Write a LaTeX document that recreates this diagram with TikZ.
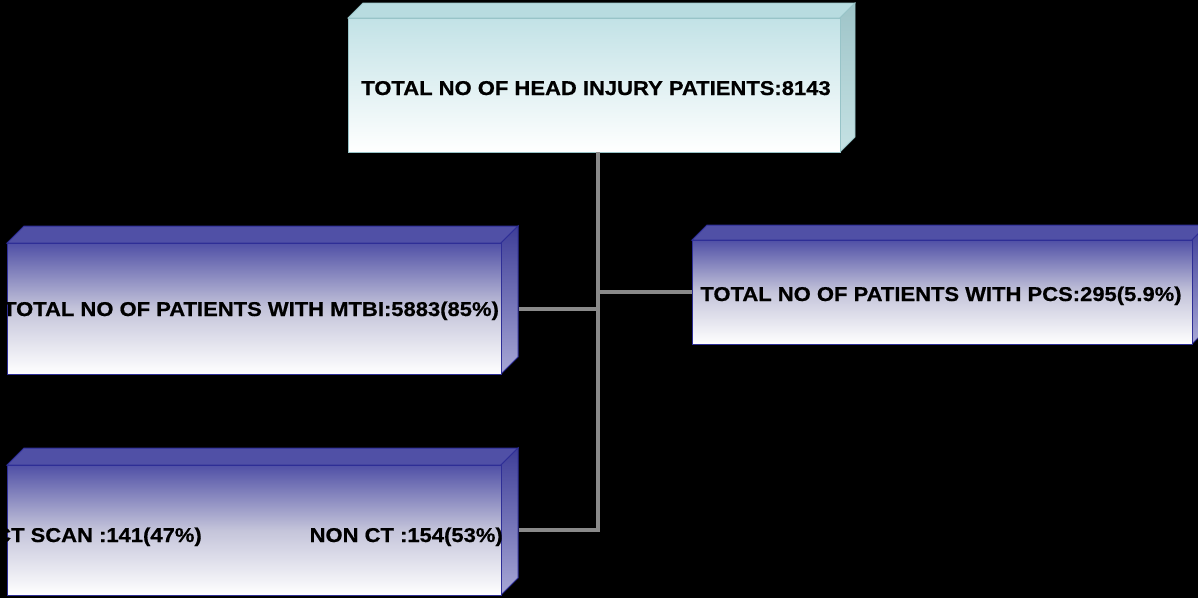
\documentclass[tikz,border=0pt]{standalone}
\usepackage{fontspec}
\usepackage{graphicx}
\setmainfont{Liberation Sans}
\newfontfamily\heavyfont{Liberation Sans Bold}[FakeBold=0.6]
\usetikzlibrary{calc}
\definecolor{bluetop}{HTML}{5050A6}
\definecolor{bluemid}{HTML}{C4C4DA}
\definecolor{blueedge}{HTML}{2E2E96}
\definecolor{bluerightA}{HTML}{3E3E98}
\definecolor{bluerightB}{HTML}{A8A8D6}
\definecolor{cyantop}{HTML}{B8DCE0}
\definecolor{cyanfront}{HTML}{C2E2E6}
\definecolor{cyanedge}{HTML}{98C4C8}
\definecolor{cyanrightA}{HTML}{9EC4C8}
\definecolor{cyanrightB}{HTML}{C6E2E4}
\definecolor{conngray}{HTML}{8A8A8A}
\newcommand\boxfaces[5]{%
  \path[#3] (#1.north west) -- ++(#2,-#2) -- ($(#1.north east)+(#2,-#2)$) -- (#1.north east) -- cycle;
  \path[#4] (#1.north east) -- ++(#2,-#2) -- ($(#1.south east)+(#2,-#2)$) -- (#1.south east) -- cycle;
  \path[#5] (#1.north west) rectangle (#1.south east);
}
\newcommand\wide[1]{\scalebox{1.1}[1]{#1}}
\tikzset{
  bluefront/.style={draw=blueedge, line width=1pt, top color=bluetop, bottom color=white, middle color=bluemid},
  bluetopface/.style={fill=bluetop, draw=blueedge, line width=1pt},
  bluerightface/.style={top color=bluerightA, bottom color=bluerightB, draw=blueedge, line width=1pt},
  cyanfrontface/.style={draw=cyanedge, line width=0.8pt, top color=cyanfront, bottom color=white},
  cyantopface/.style={fill=cyantop, draw=cyanedge, line width=0.8pt},
  cyanrightface/.style={top color=cyanrightA, bottom color=cyanrightB, draw=cyanedge, line width=0.8pt},
  boxnode/.style={minimum width=#1, inner sep=0pt, outer sep=0pt},
  lbl/.style={font=\heavyfont\fontsize{20}{22}\selectfont, text=black, inner sep=0pt, anchor=base},
  conn/.style={draw=conngray, line width=4pt}
}
\begin{document}
\begin{tikzpicture}[x=1pt,y=-1pt]
\fill[black] (0,0) rectangle (1198,598);
\useasboundingbox (0,0) rectangle (1198,598);
\clip (0,0) rectangle (1198,598);

% boxes (front faces)
\node[boxnode=492pt, minimum height=134pt] (top) at (594,85) {};
\node[boxnode=494pt, minimum height=131pt] (mtbi) at (254,308.5) {};
\node[boxnode=500pt, minimum height=104pt] (pcs) at (942,292) {};
\node[boxnode=494pt, minimum height=130pt] (ct) at (254,530) {};

\boxfaces{top}{15}{cyantopface}{cyanrightface}{cyanfrontface}
\boxfaces{mtbi}{17}{bluetopface}{bluerightface}{bluefront}
\boxfaces{pcs}{15}{bluetopface}{bluerightface}{bluefront}
\boxfaces{ct}{17}{bluetopface}{bluerightface}{bluefront}

% connectors
\coordinate (spine) at (598,152);
\coordinate (mtbiR) at ($(mtbi.east)+(18,0)$);
\coordinate (ctR) at ($(ct.east)+(18,0)$);
\draw[conn] (top.south -| spine) -- (spine |- ctR) -- (ctR);
\draw[conn] (mtbiR) -- (spine |- mtbiR);
\draw[conn] (spine |- pcs.west) -- (pcs.west);

% labels
\node[lbl] (toptext) at (596,95) {\wide{TOTAL NO OF HEAD INJURY PATIENTS:8143}};
\node[lbl] (mtbitext) at (251,316) {\wide{TOTAL NO OF PATIENTS WITH MTBI:5883(85\%)}};
\node[lbl] (pcstext) at (941,301) {\wide{TOTAL NO OF PATIENTS WITH PCS:295(5.9\%)}};
\node[lbl, anchor=base east] (cttext) at (202,542) {\wide{CT SCAN :141(47\%)}};
\node[lbl, anchor=base east] (nonct) at (503,542) {\wide{NON CT :154(53\%)}};
\end{tikzpicture}
\end{document}
